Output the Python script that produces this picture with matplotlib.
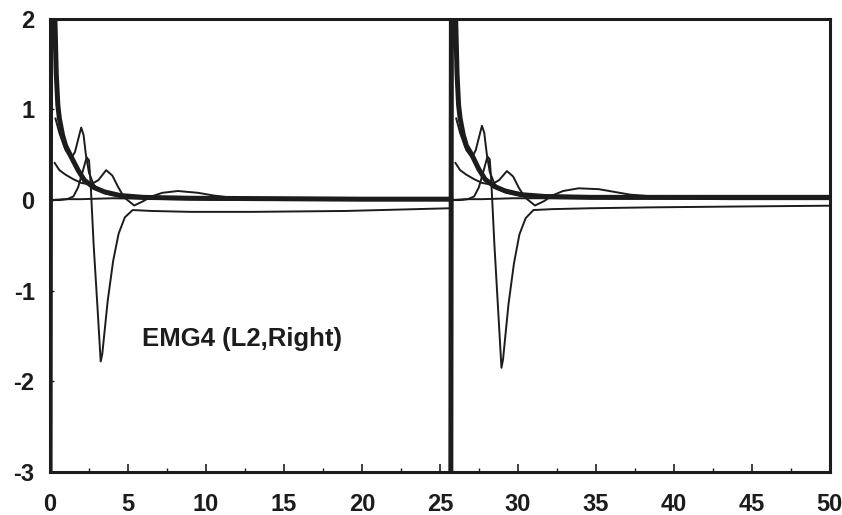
import numpy as np
import matplotlib
matplotlib.use('Agg')
import matplotlib.pyplot as plt
from matplotlib.ticker import MultipleLocator

plt.rcParams['font.family'] = ['Liberation Sans', 'DejaVu Sans']
plt.rcParams['axes.unicode_minus'] = False

# cycle starts (x offset of each repeat)
starts = [0.0, 25.7]

# thick decaying curve, phase t and values for each cycle
t_thick = [0.0, 0.05, 0.3, 0.4, 0.5, 0.6, 0.8, 1.0, 1.35, 1.8, 2.2, 2.8, 3.5, 4.5, 6.0, 9.0, 15.0, 20.0, 25.7]
y_thick1 = [-3.6, 3.5, 2.1, 1.4, 1.05, 0.9, 0.72, 0.6, 0.48, 0.33, 0.22, 0.14, 0.09, 0.05, 0.03, 0.02, 0.015, 0.01, 0.01]
y_thick2 = [-3.6, 3.5, 2.1, 1.4, 1.05, 0.9, 0.72, 0.6, 0.5, 0.34, 0.23, 0.15, 0.1, 0.06, 0.04, 0.03, 0.03, 0.03, 0.03]

# curve with the 0.8 peak
t_peak = [0.35, 0.6, 1.0, 1.35, 1.6, 1.85, 2.0, 2.15, 2.3, 2.5, 2.8, 3.2, 3.6, 4.5, 6.0, 10.0, 18.0, 25.7]
y_peak1 = [0.9, 0.74, 0.55, 0.46, 0.53, 0.7, 0.8, 0.72, 0.5, 0.3, 0.17, 0.1, 0.07, 0.04, 0.02, 0.01, 0.0, 0.0]
y_peak2 = [0.9, 0.74, 0.55, 0.47, 0.55, 0.72, 0.82, 0.74, 0.52, 0.31, 0.18, 0.11, 0.08, 0.05, 0.03, 0.02, 0.01, 0.01]

# curve with the deep negative spike
t_spike = [0.0, 0.6, 1.1, 1.5, 1.8, 2.1, 2.35, 2.5, 2.6, 2.8, 3.05, 3.25, 3.35, 3.7, 4.05, 4.4, 4.8, 5.3, 6.5, 9.0, 13.0, 19.0, 25.7]
y_spike1 = [0.0, 0.0, 0.01, 0.04, 0.14, 0.32, 0.47, 0.44, 0.2, -0.5, -1.2, -1.78, -1.7, -1.11, -0.67, -0.37, -0.19, -0.11, -0.12, -0.13, -0.13, -0.12, -0.09]
y_spike2 = [0.0, 0.0, 0.01, 0.04, 0.14, 0.32, 0.48, 0.45, 0.2, -0.5, -1.25, -1.85, -1.76, -1.15, -0.7, -0.38, -0.2, -0.11, -0.1, -0.09, -0.08, -0.07, -0.06]

# curve starting at 0.4 with the small bump and the later hump
t_hump = [0.3, 0.6, 1.0, 1.5, 2.0, 2.6, 3.1, 3.6, 4.0, 4.35, 4.75, 5.4, 6.0, 6.5, 7.2, 8.2, 9.5, 10.5, 11.5, 13.0, 16.0, 25.7]
y_hump1 = [0.41, 0.33, 0.28, 0.23, 0.19, 0.17, 0.22, 0.33, 0.27, 0.15, 0.03, -0.06, -0.01, 0.04, 0.08, 0.1, 0.08, 0.05, 0.03, 0.02, 0.01, 0.0]
y_hump2 = [0.41, 0.33, 0.28, 0.23, 0.19, 0.17, 0.22, 0.32, 0.26, 0.14, 0.03, -0.06, -0.01, 0.05, 0.1, 0.13, 0.12, 0.09, 0.06, 0.04, 0.03, 0.02]

# flat baseline curve
t_base = [0.0, 1.0, 2.0, 4.0, 8.0, 15.0, 25.7]
y_base1 = [0.0, 0.01, 0.01, 0.02, 0.01, 0.0, 0.0]
y_base2 = [0.0, 0.01, 0.01, 0.02, 0.02, 0.02, 0.02]

ink = '#1c1c1c'
fig = plt.figure(figsize=(8.42, 5.15), dpi=100)
ax = fig.add_axes([0.0594, 0.0835, 0.926, 0.88])

for s, yt, yp, ys, yh, yb in zip(starts,
                                 [y_thick1, y_thick2], [y_peak1, y_peak2],
                                 [y_spike1, y_spike2], [y_hump1, y_hump2],
                                 [y_base1, y_base2]):
    ax.plot(np.array(t_base) + s, yb, color=ink, lw=1.4)
    ax.plot(np.array(t_hump) + s, yh, color=ink, lw=1.4)
    ax.plot(np.array(t_spike) + s, ys, color=ink, lw=1.4)
    ax.plot(np.array(t_peak) + s, yp, color=ink, lw=1.4)
    ax.plot(np.array(t_thick) + s, yt, color=ink, lw=3.6, solid_joinstyle='round')

ax.set_xlim(0, 50)
ax.set_ylim(-3, 2)
ax.xaxis.set_major_locator(MultipleLocator(5))
ax.xaxis.set_minor_locator(MultipleLocator(2.5))
ax.yaxis.set_major_locator(MultipleLocator(1))
ax.tick_params(axis='both', which='both', direction='in', colors=ink)
ax.tick_params(axis='x', which='major', length=6, width=1.2, pad=15)
ax.tick_params(axis='x', which='minor', length=3, width=1.0)
ax.tick_params(axis='y', which='major', length=3, width=1.0, pad=11)
for lab in ax.get_xticklabels() + ax.get_yticklabels():
    lab.set_fontsize(17)
    lab.set_fontweight('bold')
    lab.set_color(ink)
for sp in ax.spines.values():
    sp.set_linewidth(2.2)
    sp.set_color(ink)

ax.text(5.9, -1.53, 'EMG4 (L2,Right)', fontsize=18.5, fontweight='bold',
        color=ink, va='center', ha='left')

fig.savefig('out.png', dpi=100)
